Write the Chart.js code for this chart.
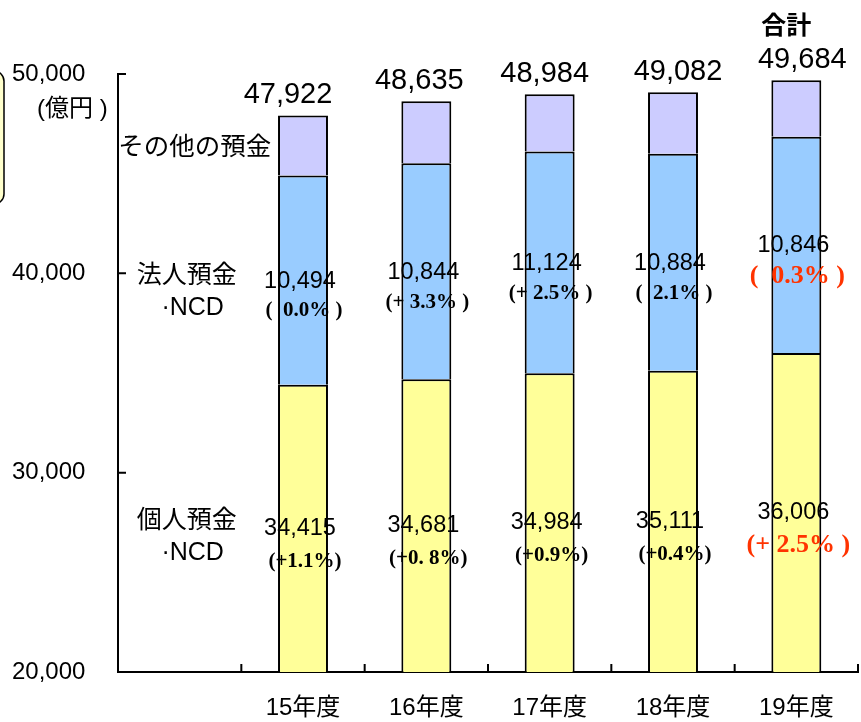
<!DOCTYPE html>
<html>
<head>
<meta charset="utf-8">
<script src="https://cdn.jsdelivr.net/npm/chart.js@4"></script>
<style>
  html, body { margin: 0; padding: 0; background: #ffffff; }
  #wrap { width: 861px; height: 722px; }
</style>
</head>
<body>
<div id="wrap"><canvas id="c" width="861" height="722"></canvas></div>
<script>
// 預金残高の推移（億円）
const categories = ['', '15年度', '16年度', '17年度', '18年度', '19年度'];
const personal = [null, 34415, 34681, 34984, 35111, 36006];   // 個人預金・NCD
const corporate = [null, 10494, 10844, 11124, 10884, 10846];  // 法人預金・NCD
const totals = [null, 47922, 48635, 48984, 49082, 49684];     // 合計
const personalChange = ['', '(+1.1%)', '(+0. 8%)', '(+0.9%)', '(+0.4%)', '(+ 2.5% )'];
const corporateChange = ['', '(  0.0% )', '(+ 3.3% )', '(+ 2.5% )', '(  2.1% )', '(  0.3% )'];
const highlight = [false, false, false, false, false, true];
const yTicks = [20000, 30000, 40000, 50000];

// その他の預金 = 合計 − 個人 − 法人
const other = totals.map((t, i) => t == null ? null : t - personal[i] - corporate[i]);

// 合計ラベルの横ずらし量（px）
const totalLabelShift = [0, -15, -7, -5, 5, 6];

const SANS = "'Liberation Sans', 'Noto Sans CJK JP', sans-serif";
const SERIF = "'Liberation Serif', 'Noto Sans CJK JP', serif";
const RED = '#ff3300';
const fmt = v => v.toLocaleString('en-US');

const decorations = {
  id: 'decorations',
  afterDatasetsDraw(chart) {
    const ctx = chart.ctx;
    const area = chart.chartArea;
    const xs = chart.scales.x;
    const segCenter = el => (Math.max(el.y, area.top) + Math.min(el.base, area.bottom)) / 2;
    const mP = chart.getDatasetMeta(0).data;
    const mC = chart.getDatasetMeta(1).data;
    const mO = chart.getDatasetMeta(2).data;

    ctx.save();
    ctx.textAlign = 'center';
    for (let i = 1; i < categories.length; i++) {
      const p = mP[i], c = mC[i], o = mO[i];
      const x = p.x;
      // 個人預金
      const pc = segCenter(p);
      ctx.fillStyle = '#000';
      ctx.textBaseline = 'middle';
      ctx.font = '23.5px ' + SANS;
      ctx.fillText(fmt(personal[i]), x - 3, pc);
      ctx.fillStyle = highlight[i] ? RED : '#000';
      ctx.font = (highlight[i] ? 'bold 26px ' : 'bold 21px ') + SERIF;
      ctx.fillText(personalChange[i], x + 2, pc + 33);
      // 法人預金
      const cc = segCenter(c);
      ctx.fillStyle = '#000';
      ctx.font = '23.5px ' + SANS;
      ctx.fillText(fmt(corporate[i]), x - 3, cc + 1);
      ctx.fillStyle = highlight[i] ? RED : '#000';
      ctx.font = (highlight[i] ? 'bold 26px ' : 'bold 21px ') + SERIF;
      ctx.fillText(corporateChange[i], x + 1, cc + 31);
      // 合計
      ctx.fillStyle = '#000';
      ctx.textBaseline = 'alphabetic';
      ctx.font = '29px ' + SANS;
      ctx.fillText(fmt(totals[i]), x + totalLabelShift[i], o.y - 12);
      if (i === categories.length - 1) {
        ctx.font = 'bold 25px ' + SANS;
        ctx.fillText('合計', x - 10, o.y - 46);
      }
    }

    // 系列名（先頭の空き区分に配置）
    const x0 = xs.getPixelForTick(0);
    const p1 = mP[1], c1 = mC[1], o1 = mO[1];
    ctx.fillStyle = '#000';
    ctx.textBaseline = 'middle';
    ctx.font = '25.5px ' + SANS;
    ctx.fillText('その他の預金', x0 + 15, segCenter(o1) + 3);
    ctx.font = '25px ' + SANS;
    ctx.fillText('法人預金', x0 + 7, segCenter(c1) - 4);
    ctx.fillText('·NCD', x0 + 13, segCenter(c1) + 28);
    ctx.fillText('個人預金', x0 + 7, segCenter(p1) - 7);
    ctx.fillText('·NCD', x0 + 13, segCenter(p1) + 25);

    // 単位
    ctx.font = '24px ' + SANS;
    ctx.textAlign = 'left';
    ctx.fillText('(億円 )', 37, 109);
    ctx.restore();
  },
  afterDraw(chart) {
    const ctx = chart.ctx;
    const area = chart.chartArea;
    const xs = chart.scales.x, ys = chart.scales.y;
    ctx.save();
    ctx.strokeStyle = '#000';
    ctx.lineWidth = 2;
    ctx.beginPath();
    // 目盛り（内向き）
    yTicks.forEach(v => {
      const y = ys.getPixelForValue(v);
      ctx.moveTo(area.left, y);
      ctx.lineTo(area.left + 8, y);
    });
    for (let i = 1; i <= categories.length; i++) {
      const x = i < categories.length
        ? (xs.getPixelForTick(i - 1) + xs.getPixelForTick(i)) / 2
        : area.right;
      ctx.moveTo(x, area.bottom);
      ctx.lineTo(x, area.bottom - 8);
    }
    ctx.stroke();

    // 左端の枠
    ctx.beginPath();
    ctx.roundRect(-60, 71, 64, 133, 10);
    ctx.fillStyle = '#ffffcc';
    ctx.fill();
    ctx.lineWidth = 1.5;
    ctx.stroke();
    ctx.restore();
  }
};

const barStyle = {
  borderColor: '#000',
  borderWidth: 2,
  borderSkipped: 'start',
  barPercentage: 0.405,
  categoryPercentage: 1.0
};

new Chart(document.getElementById('c'), {
  type: 'bar',
  data: {
    labels: categories,
    datasets: [
      Object.assign({ label: '個人預金・NCD', data: personal, backgroundColor: '#ffff99' }, barStyle),
      Object.assign({ label: '法人預金・NCD', data: corporate, backgroundColor: '#99ccff' }, barStyle),
      Object.assign({ label: 'その他の預金', data: other, backgroundColor: '#ccccff' }, barStyle)
    ]
  },
  options: {
    responsive: false,
    animation: false,
    layout: { padding: { top: 74, left: 12, right: 3, bottom: 0 } },
    plugins: { legend: { display: false }, tooltip: { enabled: false } },
    scales: {
      x: {
        stacked: true,
        grid: { display: false, drawTicks: false },
        border: { display: true, color: '#000', width: 2 },
        ticks: {
          color: '#000',
          font: { family: SANS, size: 24 },
          padding: 22,
          maxRotation: 0,
          autoSkip: false
        },
        afterFit(scale) { scale.height = 50; }
      },
      y: {
        stacked: true,
        min: 20000,
        max: 50000,
        afterBuildTicks(scale) { scale.ticks = yTicks.map(v => ({ value: v })); },
        grid: { display: false, drawTicks: false },
        border: { display: true, color: '#000', width: 2 },
        ticks: {
          color: '#000',
          crossAlign: 'far',
          font: { family: SANS, size: 24 },
          padding: 0,
          callback: v => fmt(v)
        },
        afterFit(scale) { scale.width = 106; }
      }
    }
  },
  plugins: [decorations]
});
</script>
</body>
</html>
